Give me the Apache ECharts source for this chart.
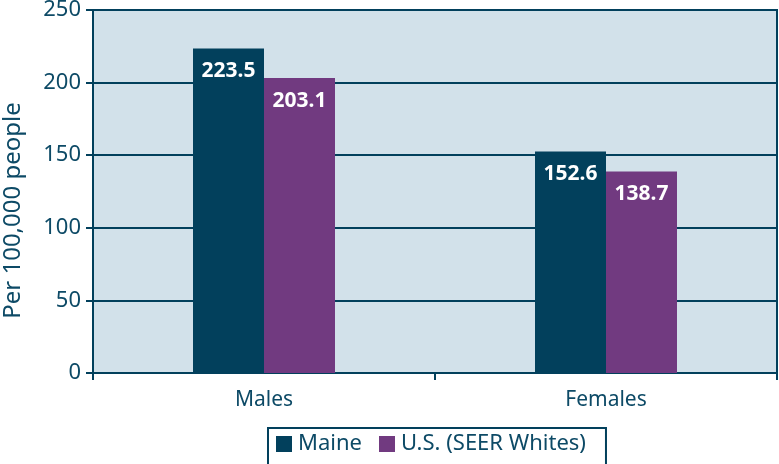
<!DOCTYPE html>
<html>
<head>
<meta charset="utf-8">
<script src="https://cdn.jsdelivr.net/npm/echarts@6/dist/echarts.min.js"></script>
<style>
  html, body { margin: 0; padding: 0; background: #fff; }
  #chart { width: 779px; height: 464px; }
</style>
</head>
<body>
<div id="chart"></div>
<script>
// data
const categories = ['Males', 'Females'];
const maineValues = [223.5, 152.6];
const usValues = [203.1, 138.7];
const seriesNames = ['Maine', 'U.S. (SEER Whites)'];

const ink = '#0d4a66';
const dark = '#02405c';
const purple = '#713a80';

const chart = echarts.init(document.getElementById('chart'));

const barLabel = {
  show: true,
  position: 'insideTop',
  distance: 12,
  color: '#fff',
  fontWeight: 'bold',
  fontSize: 21,
  fontFamily: 'Noto Sans'
};

chart.setOption({
  animation: false,
  textStyle: { fontFamily: 'Noto Sans' },
  grid: {
    left: 93, right: 2, top: 10, bottom: 91,
    outerBoundsMode: 'none',
    containLabel: false,
    show: true,
    backgroundColor: '#d2e1ea',
    borderColor: dark,
    borderWidth: 2
  },
  legend: {
    data: seriesNames,
    left: 268,
    top: 428,
    itemWidth: 16,
    itemHeight: 16,
    itemGap: 17,
    borderColor: dark,
    borderWidth: 2,
    borderRadius: 0,
    padding: [5, 20, 10, 8],
    textStyle: { color: ink, fontSize: 22, padding: [0, 0, 0, 1] },
    icon: 'rect'
  },
  xAxis: {
    type: 'category',
    data: categories,
    axisLine: { lineStyle: { color: dark, width: 2 } },
    axisTick: { show: true, length: 7, lineStyle: { color: dark, width: 2 } },
    axisLabel: { color: ink, fontSize: 21, margin: 17 }
  },
  yAxis: {
    type: 'value',
    min: 0,
    max: 250,
    interval: 50,
    name: 'Per 100,000 people',
    nameLocation: 'middle',
    nameGap: 68,
    nameTextStyle: { color: ink, fontSize: 24, padding: [0, 38, 0, 0] },
    axisLine: { show: true, lineStyle: { color: dark, width: 2 } },
    axisTick: { show: true, length: 7, lineStyle: { color: dark, width: 2 } },
    axisLabel: { color: ink, fontSize: 22, margin: 12 },
    splitLine: { lineStyle: { color: dark, width: 2 } }
  },
  series: [
    {
      name: seriesNames[0],
      type: 'bar',
      data: maineValues,
      barWidth: 71,
      barGap: '0%',
      itemStyle: { color: dark },
      label: barLabel
    },
    {
      name: seriesNames[1],
      type: 'bar',
      data: usValues,
      barWidth: 71,
      itemStyle: { color: purple },
      label: barLabel
    }
  ]
});
</script>
</body>
</html>
